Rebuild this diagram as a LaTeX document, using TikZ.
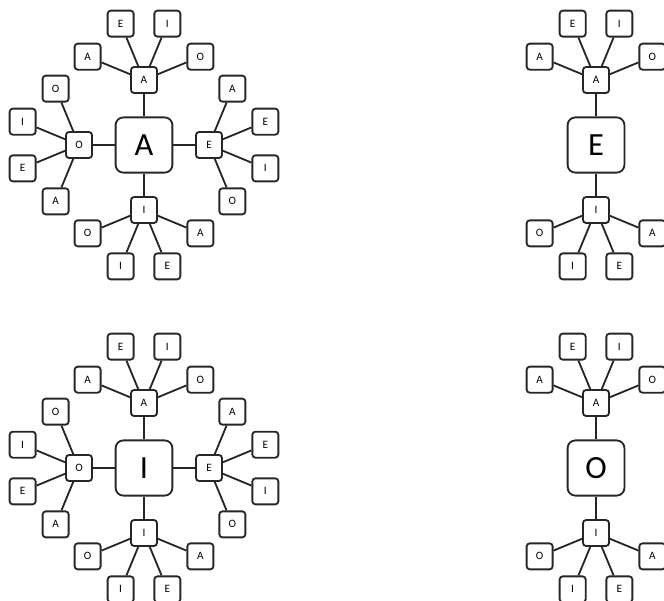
\documentclass[tikz,border=0pt]{standalone}
\usepackage{fontspec}
\setmainfont{Carlito}
\usetikzlibrary{calc}

% one hub next to a centre box, with its four leaves A E I O
\newcommand{\vowelhub}[3]{% #1 centre name, #2 direction, #3 letter
  \node[smallbox] (#1-#2) at ($(#1)+(#2:65)$) {#3};
  \draw (#1) -- (#1-#2);
  \foreach \a/\v in {67.5/A,22.5/E,-22.5/I,-67.5/O}{
     \node[smallbox] (#1-#2-\v) at ($(#1-#2)+(#2+\a:61)$) {\v};
     \draw (#1-#2) -- (#1-#2-\v);}
}

\begin{document}
\begin{tikzpicture}[x=0.025cm,y=0.025cm,line width=1.3pt,draw=black!85,
  smallbox/.style={draw=black!85,fill=white,rounded corners=2.2pt,inner sep=0pt,
    minimum size=0.65cm,font=\fontsize{8}{9}\selectfont},
  bigbox/.style={draw=black!85,fill=white,rounded corners=5.5pt,inner sep=0pt,
    minimum width=1.42cm,minimum height=1.38cm,font=\fontsize{23}{26}\selectfont}]
  \useasboundingbox (0,0) rectangle (664,-600);
  % four diagrams: name / centre / letter / with side hubs?
  \foreach \n/\cx/\cy/\ltr/\sides in {ca/144/-145/A/1,ce/596/-145/E/0,
                                      ci/144/-468/I/1,co/596/-468/O/0}{
     \node[bigbox] (\n) at (\cx,\cy) {\ltr};
     \vowelhub{\n}{90}{A}
     \vowelhub{\n}{270}{I}
     \ifnum\sides=1
       \vowelhub{\n}{0}{E}
       \vowelhub{\n}{180}{O}
     \fi
  }
\end{tikzpicture}
\end{document}
